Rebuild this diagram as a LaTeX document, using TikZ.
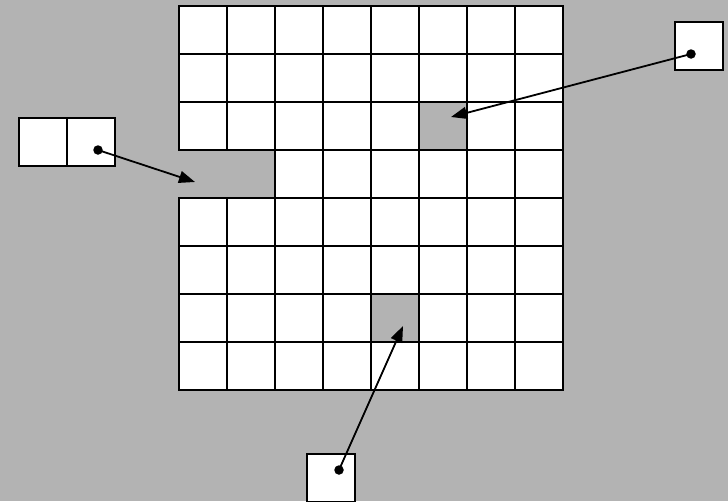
\documentclass[tikz,border=0pt]{standalone}
\usepackage{xcolor}
\usepackage{tikz}
\usetikzlibrary{calc, positioning, arrows.meta}

\definecolor{bggray}{RGB}{179,179,179}

\tikzset{
  cell/.style={draw=black, fill=white, line width=2pt, minimum size=48pt,
    inner sep=0pt, outer sep=0pt},
  dot/.style={circle, fill=black, minimum size=9.5pt, inner sep=0pt},
  pointer/.style={-{Triangle[length=16pt,width=12pt]}, line width=1.8pt}
}

\begin{document}
\begin{tikzpicture}[x=1pt, y=-1pt]
  % Background
  \fill[bggray] (0,0) rectangle (728,501);
  \useasboundingbox (0,0) rectangle (728,501);

  % Grid of cells with three holes
  \foreach \i in {0,...,7}
    \foreach \j in {0,...,7}
    {
      \pgfmathtruncatemacro\hole{(\j==3 && \i<2) || (\i==5 && \j==2) || (\i==4 && \j==6)}
      \ifnum\hole=0
        \node[cell] (cell-\i-\j) at (203+48*\i, 30+48*\j) {};
      \fi
    }

  % Outside boxes
  \node[cell] (leftA) at (43,142) {};
  \node[cell, right=0pt of leftA] (leftB) {};
  \node[cell] (rightbox) at (699,46) {};
  \node[cell] (bottombox) at (331,478) {};

  % Pointers into the holes
  \node[dot] (dotL) at (98,150) {};
  \node[dot] (dotR) at (691,54) {};
  \node[dot] (dotB) at (339,470) {};
  \coordinate (holeL) at (195,182);
  \coordinate (holeR) at (451,117);
  \coordinate (holeB) at (403,326);
  \draw[pointer] (dotL.center) -- (holeL);
  \draw[pointer] (dotR.center) -- (holeR);
  \draw[pointer] (dotB.center) -- (holeB);
\end{tikzpicture}
\end{document}
